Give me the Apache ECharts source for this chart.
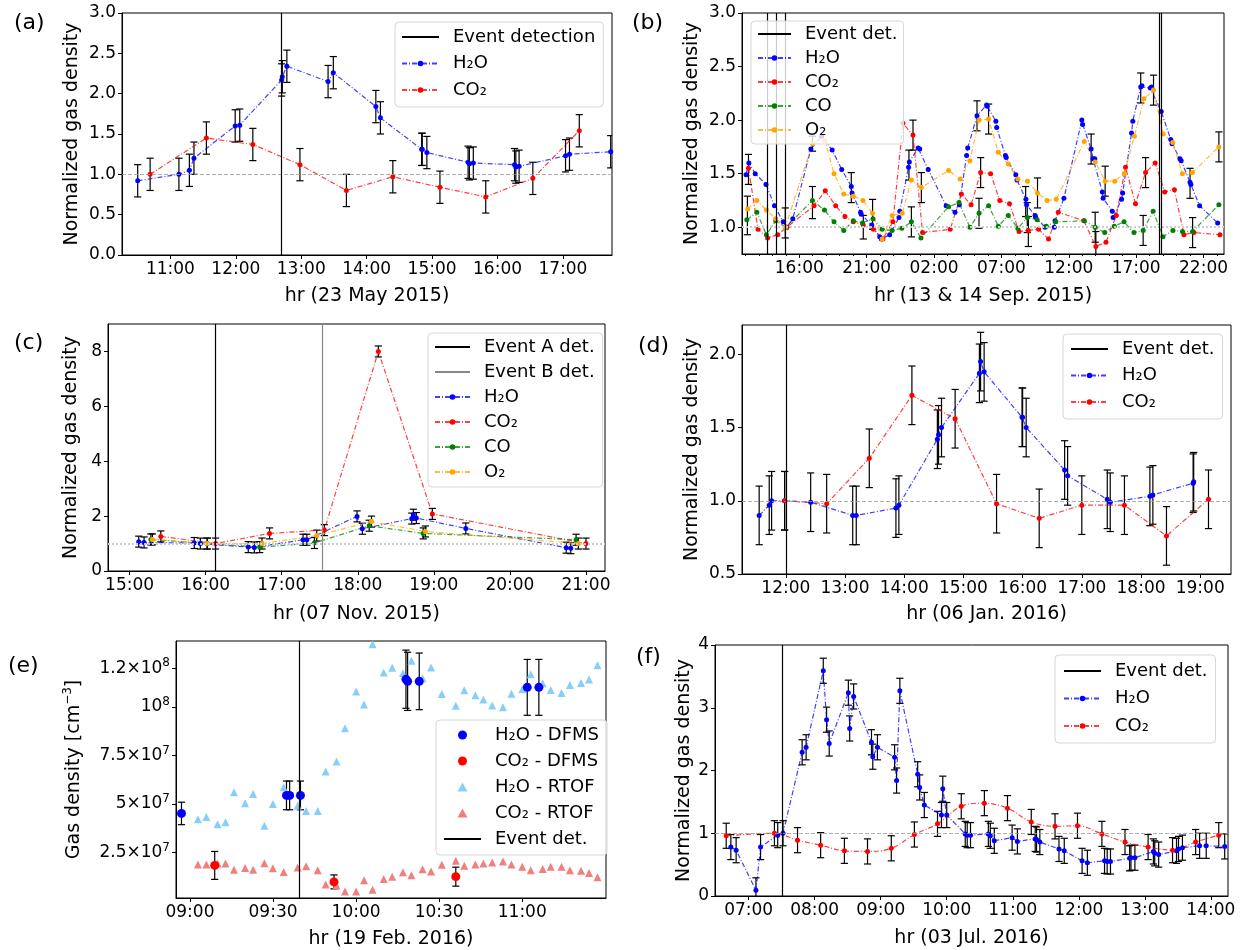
<!DOCTYPE html>
<html><head><meta charset="utf-8">
<script src="https://cdn.jsdelivr.net/npm/echarts@6/dist/echarts.min.js"></script>
<style>html,body{margin:0;padding:0;background:#fff}#c{width:1242px;height:950px}</style>
</head><body><div id="c"></div>
<script>
// ---------------- DATA ----------------
// (a) 23 May 2015, x = hour of day
const aH2O = [[10.50,0.92],[11.13,1.00],[11.29,1.05],[11.36,1.20],[11.99,1.60],[12.06,1.61],[12.70,2.17],[12.71,2.21],[12.78,2.34],[13.41,2.15],[13.49,2.26],[14.14,1.84],[14.21,1.70],[14.84,1.31],[14.85,1.31],[14.92,1.27],[15.55,1.15],[15.57,1.13],[15.63,1.14],[16.26,1.12],[16.28,1.09],[16.33,1.10],[17.04,1.23],[17.10,1.25],[17.73,1.28]];
const aCO2 = [[10.69,1.00],[11.55,1.45],[12.26,1.37],[12.98,1.12],[13.69,0.80],[14.40,0.97],[15.12,0.84],[15.82,0.72],[16.54,0.95],[17.25,1.54]];
const aEvents = [12.70];
const aErr = 0.2;
const aXTicks = [11,12,13,14,15,16,17];
const aYTicks = [0,0.5,1,1.5,2,2.5,3];

// (b) 13 & 14 Sep 2015, x = hours since 13 Sep 00:00
const bH2O = [[12.05,1.49],[12.26,1.60],[12.73,1.50],[13.53,1.40],[14.16,1.20],[14.81,1.05],[15.08,1.00],[15.52,1.08],[16.86,1.73],[17.66,1.85],[18.44,1.72],[19.15,1.54],[19.86,1.38],[19.92,1.32],[20.55,1.14],[20.60,1.12],[21.38,1.02],[21.97,0.91],[22.09,0.89],[22.71,0.93],[23.40,1.09],[23.46,1.15],[24.11,1.56],[24.17,1.61],[24.82,1.74],[24.94,1.73],[25.57,1.54],[26.90,1.20],[27.56,1.14],[27.88,1.21],[28.42,1.67],[28.50,1.74],[29.19,2.04],[29.90,2.14],[29.95,2.13],[30.59,1.99],[30.65,1.93],[31.30,1.67],[31.36,1.65],[32.07,1.49],[32.16,1.44],[32.82,1.26],[32.87,1.21],[33.50,1.11],[33.55,1.09],[34.24,1.00],[34.92,1.00],[34.98,1.06],[35.64,1.27],[36.97,2.00],[37.03,1.96],[37.66,1.73],[37.80,1.64],[37.93,1.64],[38.49,1.33],[38.55,1.27],[39.23,1.15],[39.29,1.09],[39.92,1.26],[40.00,1.32],[40.66,1.88],[40.75,1.99],[41.34,2.31],[41.43,2.32],[42.05,2.30],[42.14,2.31],[42.86,2.08],[43.57,1.82],[43.66,1.78],[44.25,1.64],[44.34,1.62],[45.00,1.42],[45.06,1.40],[45.71,1.20],[47.05,1.04]];
const bCO2 = [[12.23,1.55],[12.94,0.98],[13.65,0.90],[14.40,0.93],[15.08,1.00],[17.10,1.20],[17.93,1.34],[18.70,1.20],[19.39,1.10],[20.01,1.05],[20.75,1.02],[21.50,0.98],[22.21,0.89],[22.95,1.05],[23.69,1.97],[24.44,1.86],[25.15,0.95],[27.20,0.98],[28.03,1.31],[28.75,1.21],[29.46,1.51],[30.20,1.50],[30.88,1.25],[31.60,1.22],[32.31,0.96],[33.00,0.97],[33.76,0.98],[34.50,0.89],[35.22,1.14],[37.12,1.06],[38.01,0.82],[38.76,0.86],[39.53,1.11],[40.21,1.56],[40.95,1.22],[41.70,1.51],[42.41,1.60],[43.12,1.33],[43.84,1.35],[44.55,0.93],[45.29,0.95],[47.22,0.93]];
const bCO = [[12.11,1.07],[12.85,1.14],[13.56,0.93],[14.25,1.06],[15.00,1.00],[16.98,1.25],[17.87,1.16],[18.58,1.05],[19.30,0.97],[20.01,1.06],[20.69,1.04],[21.47,1.08],[22.15,0.98],[22.89,0.97],[23.61,0.99],[24.32,1.05],[25.03,0.90],[27.08,1.19],[27.85,1.23],[28.66,1.00],[29.34,1.13],[30.05,1.20],[30.77,1.01],[31.51,1.11],[32.22,0.99],[32.92,1.09],[33.65,1.07],[34.33,1.01],[35.04,1.05],[37.15,1.06],[37.96,1.00],[38.67,0.95],[39.38,1.01],[40.10,1.05],[40.84,0.95],[41.52,0.97],[42.26,1.15],[42.99,0.91],[43.73,0.97],[44.44,0.96],[45.19,0.96],[47.14,1.21]];
const bO2 = [[12.17,1.17],[12.85,1.25],[13.56,1.16],[14.25,1.08],[14.96,1.00],[16.98,1.78],[17.90,1.81],[18.58,1.50],[19.30,1.31],[20.01,1.29],[20.72,1.25],[21.44,1.13],[22.15,0.89],[22.89,1.11],[23.64,1.13],[24.32,1.44],[25.06,1.37],[27.08,1.53],[27.94,1.45],[28.66,1.62],[29.34,2.00],[30.05,2.01],[30.77,1.70],[31.51,1.59],[32.22,1.45],[32.93,1.43],[33.68,1.32],[34.39,1.25],[35.07,1.26],[37.15,1.80],[37.96,1.61],[38.70,1.43],[39.41,1.43],[40.12,1.50],[40.87,1.85],[41.58,2.20],[42.29,2.28],[43.00,1.87],[43.72,1.79],[44.43,1.50],[45.17,1.51],[47.14,1.75]];
const bErrBars = [[12.23,1.54,0.14],[12.15,1.11,0.18],[14.96,1.04,0.14],[16.98,1.23,0.15],[16.98,1.78,0.07],[19.86,1.37,0.14],[20.75,1.00,0.11],[21.44,1.12,0.14],[24.14,1.58,0.14],[24.44,1.86,0.14],[24.32,1.05,0.14],[25.06,1.37,0.14],[29.19,2.04,0.14],[29.46,1.51,0.14],[29.34,1.13,0.14],[30.05,2.01,0.14],[32.80,1.24,0.14],[32.92,1.09,0.14],[33.00,0.96,0.14],[33.68,1.32,0.14],[37.66,1.73,0.14],[37.96,1.00,0.14],[38.01,0.82,0.14],[38.70,1.43,0.14],[41.34,2.30,0.14],[41.70,1.51,0.14],[41.52,0.97,0.14],[42.29,2.28,0.14],[45.00,1.41,0.14],[45.19,0.95,0.14],[47.14,1.75,0.14]];
const bEvents = [13.65,14.29,14.93,42.68,42.83];
const bXTicks = [16,21,26,31,36,41,46];
const bXMinor = [12,13,14,15,17,18,19,20,22,23,24,25,27,28,29,30,32,33,34,35,37,38,39,40,42,43,44,45,47];
const bYTicks = [1,1.5,2,2.5,3];

// (c) 07 Nov 2015
const cH2O = [[15.12,1.07],[15.19,1.04],[15.85,1.02],[15.93,1.00],[16.56,0.87],[16.64,0.86],[17.28,1.14],[17.33,1.14],[17.99,1.99],[18.06,1.54],[18.71,1.91],[18.73,2.05],[18.77,1.93],[19.42,1.55],[20.74,0.85],[20.80,0.83]];
const cCO2 = [[15.41,1.26],[16.13,1.00],[16.84,1.37],[17.56,1.49],[18.27,8.00],[18.98,2.08],[21.00,1.00]];
const cCO = [[15.28,1.15],[16.02,1.00],[16.71,0.87],[17.43,1.02],[18.15,1.65],[18.86,1.37],[20.87,1.14]];
const cO2 = [[15.30,1.15],[16.02,1.00],[16.74,1.00],[17.46,1.29],[18.18,1.80],[18.89,1.44],[20.90,1.00]];
const cEventA = [16.13];
const cEventB = [17.53];
const cErr = 0.2;
const cXTicks = [15,16,17,18,19,20,21];
const cYTicks = [0,2,4,6,8];

// (d) 06 Jan 2016
const dH2O = [[11.55,0.90],[11.72,0.97],[11.76,1.00],[11.98,1.00],[12.42,0.99],[13.13,0.90],[13.19,0.90],[13.86,0.95],[13.91,0.97],[14.56,1.42],[14.58,1.45],[14.63,1.50],[15.27,1.87],[15.29,1.95],[15.35,1.88],[15.99,1.57],[16.00,1.57],[16.06,1.50],[16.71,1.21],[16.76,1.17],[17.43,1.01],[17.48,0.99],[18.15,1.03],[18.20,1.04],[18.88,1.12],[18.89,1.13]];
const dCO2 = [[11.98,1.00],[12.69,0.98],[13.41,1.29],[14.13,1.72],[14.86,1.56],[15.56,0.98],[16.28,0.88],[17.00,0.97],[17.72,0.97],[18.43,0.76],[19.14,1.01]];
const dEvents = [12.0];
const dErr = 0.2;
const dXTicks = [12,13,14,15,16,17,18,19];
const dYTicks = [0.5,1,1.5,2];

// (e) 19 Feb 2016, absolute density [cm^-3]; DFMS entries = [x, y, error]
const eH2ODFMS = [[8.949,4.51e7,0.58e7],[9.581,5.44e7,0.74e7],[9.600,5.44e7,0.74e7],[9.665,5.44e7,0.74e7],[10.300,11.43e7,1.5e7],[10.310,11.32e7,1.5e7],[10.380,11.32e7,1.46e7],[11.030,11.01e7,1.44e7],[11.100,11.01e7,1.44e7]];
const eCO2DFMS = [[9.149,1.83e7,0.72e7],[9.867,0.98e7,0.36e7],[10.600,1.25e7,0.49e7]];
const eH2ORTOF = [[9.048,4.21e7],[9.099,4.33e7],[9.166,3.95e7],[9.214,4.06e7],[9.265,5.60e7],[9.332,5.04e7],[9.380,5.51e7],[9.448,3.87e7],[9.499,4.99e7],[9.564,5.86e7],[9.648,4.90e7],[9.699,4.64e7],[9.769,4.64e7],[9.817,6.67e7],[9.882,7.19e7],[9.933,8.90e7],[10.000,10.79e7],[10.048,10.13e7],[10.099,13.23e7],[10.166,11.77e7],[10.217,12.02e7],[10.282,11.75e7],[10.333,12.38e7],[10.400,11.48e7],[10.451,12.03e7],[10.516,10.67e7],[10.600,10.06e7],[10.651,10.86e7],[10.718,10.60e7],[10.766,10.39e7],[10.819,10.08e7],[10.884,9.99e7],[10.935,10.68e7],[11.000,10.91e7],[11.051,11.69e7],[11.123,11.22e7],[11.171,10.87e7],[11.236,10.72e7],[11.287,11.13e7],[11.354,11.24e7],[11.402,11.41e7],[11.453,12.15e7]];
const eCO2RTOF = [[9.048,1.88e7],[9.099,1.88e7],[9.166,1.93e7],[9.214,1.93e7],[9.265,1.61e7],[9.332,1.70e7],[9.380,1.61e7],[9.448,1.94e7],[9.499,1.68e7],[9.564,1.49e7],[9.648,1.72e7],[9.699,1.79e7],[9.769,1.58e7],[9.817,0.84e7],[9.882,0.79e7],[9.933,0.49e7],[10.000,0.49e7],[10.048,1.06e7],[10.099,0.58e7],[10.166,1.13e7],[10.217,1.24e7],[10.282,1.48e7],[10.333,1.32e7],[10.400,1.63e7],[10.451,1.51e7],[10.516,1.86e7],[10.600,2.07e7],[10.651,1.81e7],[10.718,1.88e7],[10.766,1.93e7],[10.819,1.98e7],[10.884,2.03e7],[10.935,1.88e7],[11.000,1.76e7],[11.051,1.58e7],[11.123,1.65e7],[11.171,1.76e7],[11.236,1.76e7],[11.287,1.58e7],[11.354,1.55e7],[11.402,1.44e7],[11.453,1.22e7]];
const eEvents = [9.665];
const eXTicks = [9,9.5,10,10.5,11];
const eYTicks = [2.5e7,5e7,7.5e7,1e8,1.2e8];

// (f) 03 Jul 2016
const fH2O = [[6.73,0.78],[6.81,0.73],[7.11,0.09],[7.18,0.78],[7.44,0.97],[7.52,1.00],[7.81,2.29],[7.87,2.37],[8.13,3.59],[8.18,2.81],[8.22,2.43],[8.51,3.24],[8.53,2.67],[8.59,3.18],[8.86,2.45],[8.88,2.22],[8.95,2.37],[9.21,2.21],[9.24,1.84],[9.29,3.27],[9.56,1.94],[9.59,1.73],[9.66,1.45],[9.92,1.29],[9.94,1.71],[10.00,1.29],[10.28,0.99],[10.31,0.97],[10.36,0.97],[10.63,0.99],[10.66,0.96],[10.72,0.88],[10.99,0.93],[11.07,0.87],[11.34,0.91],[11.36,0.90],[11.41,0.86],[11.70,0.75],[11.78,0.72],[12.05,0.56],[12.13,0.53],[12.39,0.56],[12.43,0.55],[12.48,0.55],[12.77,0.60],[12.79,0.61],[12.85,0.61],[13.13,0.71],[13.15,0.68],[13.21,0.66],[13.48,0.72],[13.51,0.75],[13.57,0.77],[13.83,0.80],[13.93,0.80],[14.21,0.79]];
const fCO2 = [[6.66,0.96],[7.39,1.00],[7.74,0.89],[8.09,0.81],[8.45,0.72],[8.80,0.71],[9.16,0.76],[9.51,0.98],[9.86,1.15],[10.22,1.43],[10.57,1.48],[10.92,1.40],[11.28,1.18],[11.64,1.11],[11.98,1.12],[12.35,0.99],[12.70,0.86],[13.05,0.78],[13.42,0.73],[13.77,0.86],[14.12,0.97]];
const fEvents = [7.51];
const fErr = 0.2;
const fXTicks = [7,8,9,10,11,12,13,14];
const fYTicks = [0,1,2,3,4];

// ---------------- CHART ----------------
const FONT = 'DejaVu Sans';
const BLUE = '#0000ff', RED = '#ff0000', GREEN = '#008000', ORANGE = '#ffa500';
const pad2 = n => (n < 10 ? '0' : '') + n;
const hhmm = v => pad2(Math.round(v) % 24) + ':00';
const hhmmHalf = v => pad2(Math.floor(v + 1e-6)) + ':' + (Math.abs(v % 1 - 0.5) < 1e-6 ? '30' : '00');
const dec1 = v => v.toFixed(1);
const int0 = v => String(Math.round(v));
const sci = v => {
  const e = Math.floor(Math.log10(v) + 1e-9);
  const m = +(v / Math.pow(10, e)).toFixed(2);
  return (m === 1 ? '' : m + '×') + '10{s|' + e + '}';
};

const gridBoxes = [
  {left:122, top:13, width:490, height:242},
  {left:742, top:13, width:482, height:241},
  {left:108, top:324, width:497, height:247},
  {left:742, top:325, width:489, height:249},
  {left:176, top:641, width:430, height:257},
  {left:715, top:645, width:513, height:251}
];
const grid = gridBoxes.map(g => Object.assign({show:true, borderColor:'#000', borderWidth:1, backgroundColor:'transparent', containLabel:false}, g));

function xAx(gi, min, max, ticks, fmt, name, gap) {
  return {type:'value', gridIndex:gi, min, max, position:'bottom', name, nameLocation:'middle', nameGap:gap,
    nameTextStyle:{fontSize:19, color:'#000', fontFamily:FONT},
    axisLine:{show:true, onZero:false, lineStyle:{color:'#000', width:1}},
    axisTick:{show:true, customValues:ticks, length:4, lineStyle:{color:'#000', width:1}},
    axisLabel:{customValues:ticks, formatter:fmt, fontSize:17, color:'#000', fontFamily:FONT, margin:6},
    splitLine:{show:false}};
}
function yAx(gi, min, max, ticks, fmt, name, gap, extra) {
  const o = {type:'value', gridIndex:gi, min, max, position:'left', name, nameLocation:'middle', nameGap:gap,
    nameTextStyle:{fontSize:19, color:'#000', fontFamily:FONT},
    axisLine:{show:true, onZero:false, lineStyle:{color:'#000', width:1}},
    axisTick:{show:true, customValues:ticks, length:4, lineStyle:{color:'#000', width:1}},
    axisLabel:{customValues:ticks, formatter:fmt, fontSize:17, color:'#000', fontFamily:FONT, margin:6},
    splitLine:{show:false}};
  if (extra) { Object.assign(o.axisLabel, extra.axisLabel || {}); Object.assign(o.nameTextStyle, extra.nameTextStyle || {}); }
  return o;
}

const xAxis = [
  xAx(0, 10.26, 17.75, aXTicks, hhmm, 'hr (23 May 2015)', 32),
  xAx(1, 11.75, 47.52, bXTicks, hhmm, 'hr (13 & 14 Sep. 2015)', 33),
  xAx(2, 14.716, 21.25, cXTicks, hhmm, 'hr (07 Nov. 2015)', 34),
  xAx(3, 11.26, 19.52, dXTicks, hhmm, 'hr (06 Jan. 2016)', 31),
  xAx(4, 8.916, 11.504, eXTicks, hhmmHalf, 'hr (19 Feb. 2016)', 32),
  xAx(5, 6.49, 14.26, fXTicks, hhmm, 'hr (03 Jul. 2016)', 33),
  {type:'value', gridIndex:1, min:11.75, max:47.52, position:'bottom', offset:0,
    axisLine:{show:false}, axisLabel:{show:false}, splitLine:{show:false},
    axisTick:{show:true, customValues:bXMinor, length:2, lineStyle:{color:'#000', width:1}}}
];
const SUP = {s:{fontSize:12, lineHeight:10, verticalAlign:'top', fontFamily:FONT, color:'#000'}};
const yAxis = [
  yAx(0, 0, 3, aYTicks, dec1, 'Normalized gas density', 40),
  yAx(1, 0.75, 3, bYTicks, dec1, 'Normalized gas density', 40),
  yAx(2, 0, 9, cYTicks, int0, 'Normalized gas density', 27),
  yAx(3, 0.5, 2.2, dYTicks, dec1, 'Normalized gas density', 40),
  yAx(4, 1.5e6, 1.34e8, eYTicks, sci, 'Gas density [cm{s|−3}]', 90,
      {axisLabel:{lineHeight:22, rich:SUP}, nameTextStyle:{lineHeight:24, rich:SUP}}),
  yAx(5, 0, 4, fYTicks, int0, 'Normalized gas density', 21)
];

const DASHDOT = [5, 2, 1, 2];
function lineS(name, data, color, i, smooth) {
  return {type:'line', name, xAxisIndex:i, yAxisIndex:i, data, symbol:'circle', symbolSize:5, showSymbol:true,
    smooth: smooth || false, clip:true, animation:false, z:3,
    itemStyle:{color}, lineStyle:{color, width:1.2, type:DASHDOT, opacity:0.75},
    emphasis:{disabled:true}};
}
function errS(data, i) {
  return {type:'custom', xAxisIndex:i, yAxisIndex:i, data, z:2, silent:true, animation:false, clip:true,
    encode:{x:0, y:1},
    renderItem(params, api) {
      const x = api.value(0), y = api.value(1), e = api.value(2);
      const lo = api.coord([x, y - e]), hi = api.coord([x, y + e]);
      const c = 3.6, st = {stroke:'#000', lineWidth:1.2};
      return {type:'group', children:[
        {type:'line', shape:{x1:lo[0], y1:lo[1], x2:hi[0], y2:hi[1]}, style:st},
        {type:'line', shape:{x1:lo[0]-c, y1:lo[1], x2:lo[0]+c, y2:lo[1]}, style:st},
        {type:'line', shape:{x1:hi[0]-c, y1:hi[1], x2:hi[0]+c, y2:hi[1]}, style:st}
      ]};
    }};
}
const withErr = (arr, e) => arr.map(p => [p[0], p[1], e]);
function evS(name, xs, i, color) {
  return {type:'line', name, xAxisIndex:i, yAxisIndex:i, data:[], symbol:'none', animation:false, z:3,
    itemStyle:{color}, lineStyle:{color, width:1.2, type:'solid'},
    markLine:{silent:true, symbol:'none', animation:false, label:{show:false}, emphasis:{disabled:true},
      lineStyle:{color, width:1.2, type:'solid'}, data: xs.map(x => ({xAxis:x}))}};
}
function refS(i, style) {
  return {type:'line', xAxisIndex:i, yAxisIndex:i, data:[], symbol:'none', animation:false, z:1,
    markLine:{silent:true, symbol:'none', animation:false, label:{show:false}, emphasis:{disabled:true},
      lineStyle:style, data:[{yAxis:1}]}};
}
function scatS(name, data, color, symbol, size, i) {
  return {type:'scatter', name, xAxisIndex:i, yAxisIndex:i, data: data.map(p => [p[0], p[1]]), symbol, symbolSize:size,
    itemStyle:{color, opacity:1}, z:3, animation:false, emphasis:{disabled:true}};
}

const thinRef = {color:'#9a9a9a', width:0.8, type:[4,2]};
const thickRef = {color:'#cccccc', width:2, type:[2,2]};

const series = [
  // (a)
  refS(0, thinRef),
  errS(withErr(aH2O, aErr), 0), errS(withErr(aCO2, aErr), 0),
  lineS('H₂O', aH2O, BLUE, 0), lineS('CO₂', aCO2, RED, 0),
  evS('Event detection', aEvents, 0, '#000'),
  // (b)
  refS(1, thickRef),
  errS(bErrBars, 1),
  lineS('H₂O', bH2O, BLUE, 1), lineS('CO₂', bCO2, RED, 1), lineS('CO', bCO, GREEN, 1), lineS('O₂', bO2, ORANGE, 1),
  evS('Event det.', bEvents, 1, '#000'),
  // (c)
  refS(2, thickRef),
  errS(withErr(cH2O, cErr), 2), errS(withErr(cCO2, cErr), 2), errS(withErr(cCO, cErr), 2), errS(withErr(cO2, cErr), 2),
  lineS('H₂O', cH2O, BLUE, 2), lineS('CO₂', cCO2, RED, 2), lineS('CO', cCO, GREEN, 2), lineS('O₂', cO2, ORANGE, 2),
  evS('Event A det.', cEventA, 2, '#000'), evS('Event B det.', cEventB, 2, '#888888'),
  // (d)
  refS(3, thinRef),
  errS(withErr(dH2O, dErr), 3), errS(withErr(dCO2, dErr), 3),
  lineS('H₂O', dH2O, BLUE, 3), lineS('CO₂', dCO2, RED, 3),
  evS('Event det.', dEvents, 3, '#000'),
  // (e)
  scatS('H₂O - RTOF', eH2ORTOF, '#87cefa', 'triangle', 8, 4),
  scatS('CO₂ - RTOF', eCO2RTOF, '#f08080', 'triangle', 8, 4),
  errS(eH2ODFMS, 4), errS(eCO2DFMS, 4),
  scatS('H₂O - DFMS', eH2ODFMS, BLUE, 'circle', 9, 4),
  scatS('CO₂ - DFMS', eCO2DFMS, RED, 'circle', 9, 4),
  evS('Event det.', eEvents, 4, '#000'),
  // (f)
  refS(5, thinRef),
  errS(withErr(fH2O, fErr), 5), errS(withErr(fCO2, fErr), 5),
  lineS('H₂O', fH2O, BLUE, 5), lineS('CO₂', fCO2, RED, 5, 0.35),
  evS('Event det.', fEvents, 5, '#000')
];

const TRI = 'path://M5,0 L10,9 L0,9 Z';
function leg(names, left, top, pad, gap, iw, ih) {
  return {show:true, z:6, orient:'vertical', left, top, padding:pad, itemGap:gap, itemWidth:iw, itemHeight:ih,
    backgroundColor:'rgba(255,255,255,0.8)', borderColor:'#d6d6d6', borderWidth:1, borderRadius:4,
    selectedMode:false, symbolKeepAspect:true,
    textStyle:{fontSize:18, color:'#000', fontFamily:FONT, padding:[0,0,0,9]},
    data: names.map(n => n.startsWith('Event') ? {name:n, itemStyle:{opacity:0}}
                        : (n.indexOf('RTOF') >= 0 ? {name:n, icon:TRI} : {name:n}))};
}
const legend = [
  leg(['Event detection','H₂O','CO₂'], 395, 22, [6,8,8,6], 8.5, 37, 7),
  leg(['Event det.','H₂O','CO₂','CO','O₂'], 751, 21, [4,6,5,6], 6, 33, 7),
  leg(['Event A det.','Event B det.','H₂O','CO₂','CO','O₂'], 428, 333, [5,8,6,6], 7, 35, 7),
  leg(['Event det.','H₂O','CO₂'], 1063, 334, [6,8,8,7], 8.5, 37, 7),
  leg(['H₂O - DFMS','CO₂ - DFMS','H₂O - RTOF','CO₂ - RTOF','Event det.'], 436, 720, [6,8,7,7], 8, 37, 9),
  leg(['Event det.','H₂O','CO₂'], 1055, 655, [7,8,8,8], 9.5, 37, 7)
];

const lbl = (t, x, y) => ({type:'text', left:x, top:y, z:10, style:{text:t, fontSize:22, fontFamily:FONT, fill:'#000'}});
const graphic = [
  lbl('(a)', 14, 12), lbl('(b)', 632, 12), lbl('(c)', 14, 332),
  lbl('(d)', 638, 335), lbl('(e)', 8, 655), lbl('(f)', 636, 646)
];

const chart = echarts.init(document.getElementById('c'), null, {renderer:'canvas'});
chart.setOption({animation:false, backgroundColor:'#fff', textStyle:{fontFamily:FONT},
  grid, xAxis, yAxis, series, legend, graphic});
</script>
</body></html>
